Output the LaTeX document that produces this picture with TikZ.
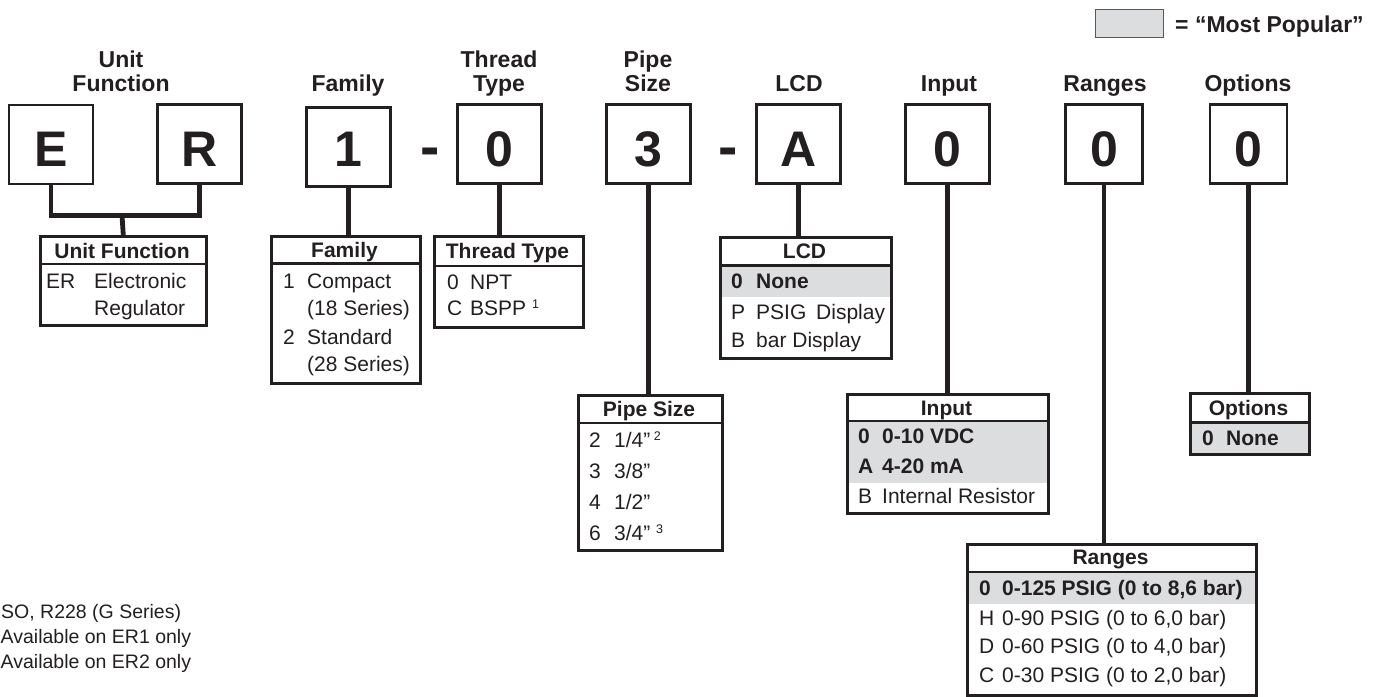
\documentclass[tikz,border=0pt]{standalone}
\usepackage{fontspec}
\setmainfont{Liberation Sans}
\definecolor{ink}{HTML}{231F20}
\definecolor{pop}{HTML}{DCDDDE}
\definecolor{legline}{HTML}{58595B}
\newcommand{\supnum}[1]{\raisebox{7pt}{\fontsize{12.5}{12.5}\selectfont #1}}
\begin{document}
\begin{tikzpicture}[x=1pt,y=-1pt,
  lbox/.style={draw=ink, line width=2.6pt, minimum width=84pt, minimum height=79pt, inner sep=0pt},
  sbox/.style={lbox, minimum width=77pt},
  big/.style={font=\bfseries\fontsize{50}{55}\selectfont, text=ink, inner sep=0pt, anchor=base},
  dashsym/.style={font=\bfseries\fontsize{58}{60}\selectfont, text=ink, inner sep=0pt, anchor=base},
  ttl/.style={font=\bfseries\fontsize{23}{24}\selectfont, text=ink, inner sep=0pt, anchor=base},
  tbl/.style={draw=ink, line width=2.6pt, anchor=north west, inner sep=0pt},
  tline/.style={draw=ink, line width=2.6pt},
  hd/.style={font=\bfseries\fontsize{21}{24}\selectfont, text=ink, inner sep=0pt, anchor=base},
  tx/.style={font=\fontsize{21}{24}\selectfont, text=ink, inner sep=0pt, anchor=base west},
  tb/.style={font=\bfseries\fontsize{21}{24}\selectfont, text=ink, inner sep=0pt, anchor=base west},
  fn/.style={font=\fontsize{19.5}{22}\selectfont, text=ink, inner sep=0pt, anchor=base west},
  conn/.style={draw=ink, line width=4.8pt}
]
\useasboundingbox (0,0) rectangle (1383,696);

% legend
\node[draw=legline, fill=pop, line width=1.3pt, anchor=north west, minimum width=68pt, minimum height=28pt, inner sep=0pt] (leg) at (1095,9) {};
\node[font=\bfseries\fontsize{23}{24}\selectfont, text=ink, inner sep=0pt, anchor=base west] (legt) at (1175,32) {= “Most Popular”};

% titles
\node[ttl] (tUF1) at (121,67) {Unit};
\node[ttl] (tUF2) at (121,91) {Function};
\node[ttl] (tFam) at (348,91) {Family};
\node[ttl] (tTT1) at (499,67) {Thread};
\node[ttl] (tTT2) at (499,91) {Type};
\node[ttl] (tPS1) at (648,67) {Pipe};
\node[ttl] (tPS2) at (648,91) {Size};
\node[ttl] (tLCD) at (799,91) {LCD};
\node[ttl] (tIn) at (949,91) {Input};
\node[ttl] (tRg) at (1105,91) {Ranges};
\node[ttl] (tOp) at (1248,91) {Options};

% letter boxes
\node[lbox] (bE) at (51,144.5) {};
\node[big] (lE) at (51,166) {E};
\node[lbox] (bR) at (199.5,144) {};
\node[big] (lR) at (199.5,166) {R};
\node[lbox] (b1) at (348.5,147) {};
\node[big] (l1) at (348.5,166) {1};
\node[dashsym] (d1) at (430.5,166) {-};
\node[lbox] (b0) at (499.5,144) {};
\node[big] (l0) at (499.5,166) {0};
\node[lbox] (b3) at (648.5,144) {};
\node[big] (l3) at (648.5,166) {3};
\node[dashsym] (d2) at (728.5,166) {-};
\node[lbox] (bA) at (798.5,144) {};
\node[big] (lA) at (798.5,166) {A};
\node[lbox] (bI) at (947.5,144) {};
\node[big] (lI) at (947.5,166) {0};
\node[sbox] (bRg) at (1104,144) {};
\node[big] (lRg) at (1104,166) {0};
\node[sbox] (bO) at (1248.5,144) {};
\node[big] (lO) at (1248.5,166) {0};

% grey "most popular" rows
\fill[pop] (719,265.5) rectangle (890,297);
\fill[pop] (846,421) rectangle (1047,483);
\fill[pop] (966,572) rectangle (1255,604);
\fill[pop] (1189,422.5) rectangle (1308,453);

% tables
\node[tbl, minimum width=166pt, minimum height=89pt] (uf) at (39,235) {};
\draw[tline] (39,264) -- (205,264);
\node[hd] (ufh) at (122,258) {Unit Function};
\node[tx] (uf1a) at (46,288) {ER};
\node[tx] (uf1b) at (94,288) {Electronic};
\node[tx] (uf2b) at (94,315) {Regulator};

\node[tbl, minimum width=149pt, minimum height=147pt] (fam) at (270,235) {};
\draw[tline] (270,263.5) -- (419,263.5);
\node[hd] (famh) at (344.5,257) {Family};
\node[tx] (fa1) at (283,288) {1};
\node[tx] (fa1b) at (307,288) {Compact};
\node[tx] (fa1c) at (307,315) {(18 Series)};
\node[tx] (fa2) at (283,344) {2};
\node[tx] (fa2b) at (307,344) {Standard};
\node[tx] (fa2c) at (307,371) {(28 Series)};

\node[tbl, minimum width=149pt, minimum height=91pt] (thr) at (433,235) {};
\draw[tline] (433,266) -- (582,266);
\node[hd] (thrh) at (507.5,258) {Thread Type};
\node[tx] (th1) at (447,289) {0};
\node[tx] (th1b) at (470,289) {NPT};
\node[tx] (th2) at (447,315) {C};
\node[tx] (th2b) at (470,315) {BSPP \supnum{1}};

\node[tbl, minimum width=171pt, minimum height=121pt] (lcd) at (719,236) {};
\draw[tline] (719,265.5) -- (890,265.5);
\node[hd] (lcdh) at (804.5,258) {LCD};
\node[tb] (lc1) at (731,288) {0};
\node[tb] (lc1b) at (756,288) {None};
\node[tx] (lc2) at (731,319) {P};
\node[tx] (lc2b) at (756,319) {PSIG\hspace{4pt} Display};
\node[tx] (lc3) at (731,347) {B};
\node[tx] (lc3b) at (756,347) {bar Display};

\node[tbl, minimum width=144pt, minimum height=155pt] (pipe) at (577,394) {};
\draw[tline] (577,423) -- (721,423);
\node[hd] (pipeh) at (649,416) {Pipe Size};
\node[tx] (ps1) at (589,447) {2};
\node[tx] (ps1b) at (614,447) {1/4”\,\supnum{2}};
\node[tx] (ps2) at (589,478) {3};
\node[tx] (ps2b) at (614,478) {3/8”};
\node[tx] (ps3) at (589,509) {4};
\node[tx] (ps3b) at (614,509) {1/2”};
\node[tx] (ps4) at (589,540) {6};
\node[tx] (ps4b) at (614,540) {3/4” \supnum{3}};

\node[tbl, minimum width=201pt, minimum height=119pt] (inp) at (846,393) {};
\draw[tline] (846,421) -- (1047,421);
\node[hd] (inph) at (946.5,415) {Input};
\node[tb] (in1) at (858,443) {0};
\node[tb] (in1b) at (882,443) {0-10 VDC};
\node[tb] (in2) at (858,473) {A};
\node[tb] (in2b) at (882,473) {4-20 mA};
\node[tx] (in3) at (858,503) {B};
\node[tx] (in3b) at (882,503) {Internal Resistor};

\node[tbl, minimum width=289pt, minimum height=151pt] (rng) at (966,543) {};
\draw[tline] (966,572) -- (1255,572);
\node[hd] (rngh) at (1110.5,564) {Ranges};
\node[tb] (rg1) at (979,595) {0};
\node[tb] (rg1b) at (1002,595) {0-125 PSIG (0 to 8,6 bar)};
\node[tx] (rg2) at (979,625) {H};
\node[tx] (rg2b) at (1002,625) {0-90 PSIG (0 to 6,0 bar)};
\node[tx] (rg3) at (979,653) {D};
\node[tx] (rg3b) at (1002,653) {0-60 PSIG (0 to 4,0 bar)};
\node[tx] (rg4) at (979,682) {C};
\node[tx] (rg4b) at (1002,682) {0-30 PSIG (0 to 2,0 bar)};

\node[tbl, minimum width=119pt, minimum height=61pt] (opt) at (1189,392) {};
\draw[tline] (1189,422.5) -- (1308,422.5);
\node[hd] (opth) at (1248.5,415) {Options};
\node[tb] (op1) at (1202,445) {0};
\node[tb] (op1b) at (1226,445) {None};

% connectors
\coordinate (jn) at (122,215.5);
\draw[conn] (bE.south) |- (jn) -| (bR.south);
\draw[conn] (jn) -- (uf.north);
\draw[conn] (b1.south) -- (b1.south |- fam.north);
\draw[conn] (b0.south) -- (b0.south |- thr.north);
\draw[conn] (b3.south) -- (b3.south |- pipe.north);
\draw[conn] (bA.south) -- (bA.south |- lcd.north);
\draw[conn] (bI.south) -- (bI.south |- inp.north);
\draw[conn] (bRg.south) -- (bRg.south |- rng.north);
\draw[conn] (bO.south) -- (bO.south |- opt.north);

% footnotes
\node[fn] (fn1) at (1,618) {SO, R228 (G Series)};
\node[fn] (fn2) at (0.5,643) {Available on ER1 only};
\node[fn] (fn3) at (0.5,668) {Available on ER2 only};
\end{tikzpicture}
\end{document}
